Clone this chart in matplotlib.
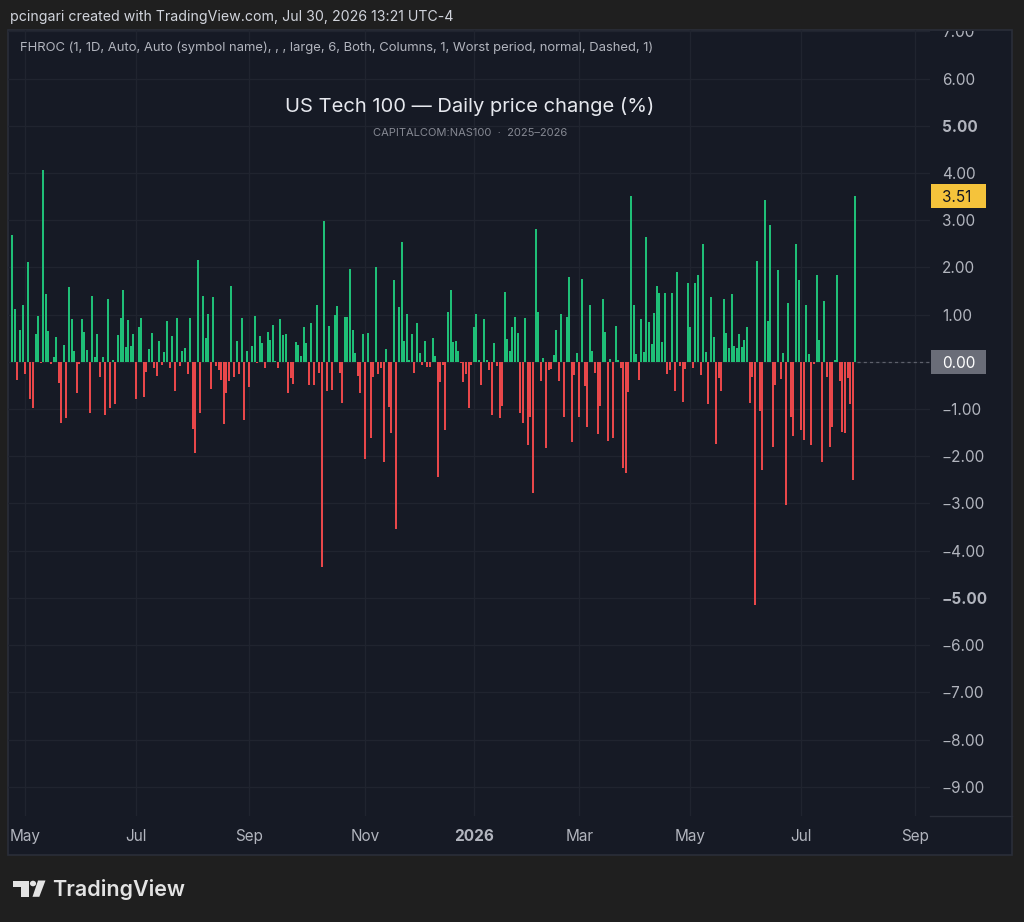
import matplotlib
matplotlib.use("Agg")
import matplotlib.pyplot as plt
import matplotlib.patches as mpatches
from matplotlib.transforms import Bbox, TransformedBbox
import numpy as np
import pandas as pd

# daily % change of US Tech 100 (one value per trading day)
changes = [
    2.68, 1.12, -0.38, 0.68, 1.21, -0.26, 2.11, -0.78, -0.97, 0.59,
    0.98, -0.03, 4.06, 1.44, 0.65, -0.04, 0.10, 0.52, -0.44, -1.29,
    0.35, -1.18, 1.59, 0.91, 0.23, -0.67, -0.04, 0.91, 0.63, 0.26,
    -1.08, 1.40, 0.11, 0.60, -0.31, 0.11, -1.13, 1.34, -0.97, 0.04,
    -0.90, 0.57, 0.92, 1.52, 0.31, 0.89, 0.34, 0.59, -0.78, 0.73,
    0.93, -0.74, -0.21, 0.28,
    0.62, -0.12, -0.30, 0.45, -0.06, 0.21, 0.87, -0.14, 0.54, -0.62,
    0.93, -0.08, 0.24, 0.29, -0.25, 0.92, -1.42, -1.92, 2.15, -1.09,
    1.40, 0.50, 1.02, -0.57, 1.38, -0.08, -0.17, -0.38, -1.32,
    -0.67, -0.40, 1.60, -0.33, 0.45, -0.25, 0.92, -1.23, 0.22, -0.53,
    0.34, 0.98, -0.02, 0.54, 0.41, -0.12, 0.63, 0.47, 0.79, 0.02,
    -0.14, 0.91, 0.57, 0.60,
    -0.67, -0.35, -0.46, 0.42, 0.35, 0.12, 0.73, 0.39, -0.49, 0.82,
    -0.49, 1.21, -0.24, -4.34, 2.99, -0.61, 0.77, -0.59, 0.99, 1.19,
    -0.24, -0.87, 0.96, 0.96, 1.96, 0.67, 0.19, -0.30, -0.67, 0.58,
    -2.06, 0.61, -1.61, -0.31, 2.00, -0.26, -0.12, -2.12, 0.28, -0.95,
    -1.50, 1.74, -3.54, 1.17, 2.54, 0.44, 1.02, 0.03, 0.60, -0.23,
    0.82, 0.18, -0.06, 0.44, -0.10,
    -0.10, 0.50, 0.13, -2.44, -0.42, -0.06, -1.44, 1.06, 1.52, 0.42,
    0.45, 0.23, -0.03, -0.42, -0.26, -0.97, -0.07, 0.73, 1.01, 0.04,
    -0.49, 0.91, 0.04, -0.17, -1.12, 0.40, -0.08, -1.18, -0.94, 1.48,
    0.49, 0.23, 0.73, 0.96, 0.61, -1.09, -1.30, 0.93, -1.76, -1.16,
    -2.78, 2.82, 1.05, -0.40, 0.09, -1.82, -0.17, -0.16, 0.14, 0.67,
    -0.40, 1.01, -1.16,
    0.95, 1.79, -1.70, -0.28, 0.18, -1.16, 1.76, -0.52, -1.38, 1.20,
    0.23, -0.24, -1.52, -0.93, 1.33, 0.63, -1.67, 0.06, -1.62, 0.77,
    0.04, -0.14, -2.24, -2.35, -0.64, 3.52, 1.20, 0.17, -0.38, 0.91,
    0.21, 2.65, 0.85, 0.37, 1.04, 1.60, 1.45, 0.43, 1.45, -0.26,
    -0.18, 1.46, -0.61, 1.91, -0.08, -0.86, -0.16, 1.67, 0.73, -0.14,
    1.68, 1.84, -0.27, 2.50,
    0.21, -0.89, 1.38, 0.53, -1.73, -0.35, -0.61, 1.34, 0.62, 0.30,
    1.43, 0.33, 0.30, 0.58, 0.32, 0.46, 0.74, -0.87, -0.33, -5.16,
    2.13, -1.04, -2.30, 3.43, 0.86, 2.90, -1.80, -0.49, 1.95, -0.37,
    0.18, -3.04, 1.24, -1.17, -1.57, 2.50, 1.74, -1.45, -1.65, 1.21,
    0.16, -1.77, -0.04, 1.85, 0.46, -2.12, 1.28, -0.31, -1.80, -1.37,
    0.03, 1.84, -0.41, -1.48, -1.51, -0.35, -0.89, -2.50, 3.51,
]
last_date = "2026-07-30"
closed_days = ["2025-12-25", "2026-01-01", "2026-04-03"]
month_ticks = ["2025-05-01", "2025-07-01", "2025-09-01", "2025-11-01", "2026-01-01",
               "2026-03-01", "2026-05-01", "2026-07-01", "2026-09-01"]
month_labels = ["May", "Jul", "Sep", "Nov", "2026", "Mar", "May", "Jul", "Sep"]
price_ticks = list(range(-9, 8))

# colours
FIG_BG = "#1f1f1f"
PANEL = "#161a25"
GRID = "#20242f"
BORDER = "#2a2e39"
TXT = "#b2b5be"
GREEN = "#1fbf77"
RED = "#e8474a"

W, H = 1024, 922
plt.rcParams["font.family"] = ["Inter", "DejaVu Sans"]

fig = plt.figure(figsize=(W / 100, H / 100), dpi=100, facecolor=FIG_BG)


def fx(x):
    return x / W


def fy(y):
    return 1 - y / H


# chart panel background + border
fig.add_artist(mpatches.Rectangle((fx(8), fy(855)), fx(1012 - 8), (855 - 30) / H,
                                  transform=fig.transFigure, facecolor=PANEL,
                                  edgecolor=BORDER, linewidth=1.2, zorder=0))
fig.add_artist(plt.Line2D([fx(930), fx(1012)], [fy(816), fy(816)],
                          transform=fig.transFigure, color=BORDER, linewidth=1))

ax = fig.add_axes([fx(8), fy(816), fx(930 - 8), (816 - 30) / H])
ax.set_facecolor("none")

vals = np.array(changes)
n = len(vals)
bday = pd.offsets.CustomBusinessDay(holidays=closed_days)
dates = pd.date_range(end=last_date, periods=n, freq=bday)
future = pd.date_range(start=pd.Timestamp(last_date) + pd.Timedelta(days=1), periods=60, freq=bday)
all_dates = dates.append(future)
idx = np.arange(n)
cols = [GREEN if v >= 0 else RED for v in vals]
ax.vlines(idx, 0, vals, colors=cols, linewidth=1.44, antialiased=False, zorder=3)

# dashed zero line from the last bar to the price scale
ax.hlines(0, n - 0.5, n + 40, colors="#5d606b", linestyles=(0, (2.5, 2.5)),
          linewidth=0.9, zorder=2)

px_per_bar = (855.3 - 12.3) / (n - 1)
x_left = -(12.3 - 8) / px_per_bar
x_right = x_left + (930 - 8) / px_per_bar
ax.set_xlim(x_left, x_right)
ax.set_ylim(-9.62, 7.03)

tick_pos = [all_dates.searchsorted(pd.Timestamp(d)) for d in month_ticks]
ax.set_xticks(tick_pos)
ax.set_xticklabels(month_labels)
ax.set_yticks(price_ticks)
ax.set_yticklabels(["" if t == 0 else f"{t:.2f}".replace("-", "\u2212") for t in price_ticks])
ax.yaxis.tick_right()

ax.tick_params(axis="both", length=0, colors=TXT, labelsize=11)
ax.tick_params(axis="x", pad=9)
ax.tick_params(axis="y", pad=8.6)

panel_clip = TransformedBbox(Bbox([[fx(8), fy(855)], [fx(1012), fy(31)]]), fig.transFigure)
for lab in ax.get_yticklabels():
    if lab.get_text() in ("5.00", "\u22125.00"):
        lab.set_fontweight("bold")
    lab.set_clip_box(panel_clip)
    lab.set_clip_on(True)
for lab in ax.get_xticklabels():
    if lab.get_text() == "2026":
        lab.set_fontweight("bold")

ax.grid(True, color=GRID, linewidth=1, zorder=0)
for s in ax.spines.values():
    s.set_visible(False)


# price scale badges
def badge(value, text, face, color):
    ax.add_patch(mpatches.Rectangle((1.0 + 1 / 922, value - 12 / 47.2), 55 / 922, 24 / 47.2,
                                    transform=ax.get_yaxis_transform(), facecolor=face,
                                    edgecolor="none", clip_on=False, zorder=6))
    ax.text(1.0 + 12 / 922, value, text, transform=ax.get_yaxis_transform(),
            ha="left", va="center_baseline", fontsize=11, color=color, zorder=7, clip_on=False)


badge(vals[-1], f"{vals[-1]:.2f}", "#f5c33b", "#131722")
badge(0.0, "0.00", "#6a6d78", "#ffffff")

# header texts
fig.text(fx(10), fy(16.5), "pcingari created with TradingView.com, Jul 30, 2026 13:21 UTC-4",
         color="#d1d4dc", fontsize=10.2, ha="left", va="center")
fig.text(fx(20), fy(47.5), "FHROC (1, 1D, Auto, Auto (symbol name), , , large, 6, Both, Columns, 1, "
         "Worst period, normal, Dashed, 1)", color=TXT, fontsize=9.4, ha="left", va="center")
fig.text(fx(470), fy(106.5), "US Tech 100 \u2014 Daily price change (%)",
         color="#e6e8ee", fontsize=14.5, ha="center", va="center")
fig.text(fx(470), fy(133.5), "CAPITALCOM:NAS100  \u00b7  2025\u20132026",
         color="#868993", fontsize=8, ha="center", va="center")

# TradingView logo
LOGO = "#e3e3e3"
fig.add_artist(mpatches.Polygon([(fx(13), fy(880.5)), (fx(29.3), fy(880.5)), (fx(29.3), fy(896.8)),
                                 (fx(21.3), fy(896.8)), (fx(21.3), fy(886.5)), (fx(13), fy(886.5))],
                                closed=True, transform=fig.transFigure, facecolor=LOGO,
                                edgecolor="none"))
fig.add_artist(mpatches.Circle((fx(33), fy(883.5)), 3.1 / W, transform=fig.transFigure,
                               facecolor=LOGO, edgecolor="none"))
fig.add_artist(mpatches.Polygon([(fx(38), fy(880.5)), (fx(45.5), fy(880.5)), (fx(39.3), fy(896.8)),
                                 (fx(32.5), fy(896.8))],
                                closed=True, transform=fig.transFigure, facecolor=LOGO,
                                edgecolor="none"))
fig.text(fx(52.5), fy(889), "TradingView", color=LOGO, fontsize=15.5, fontweight="semibold",
         ha="left", va="center")

fig.savefig("out.png", dpi=100, facecolor=FIG_BG)
